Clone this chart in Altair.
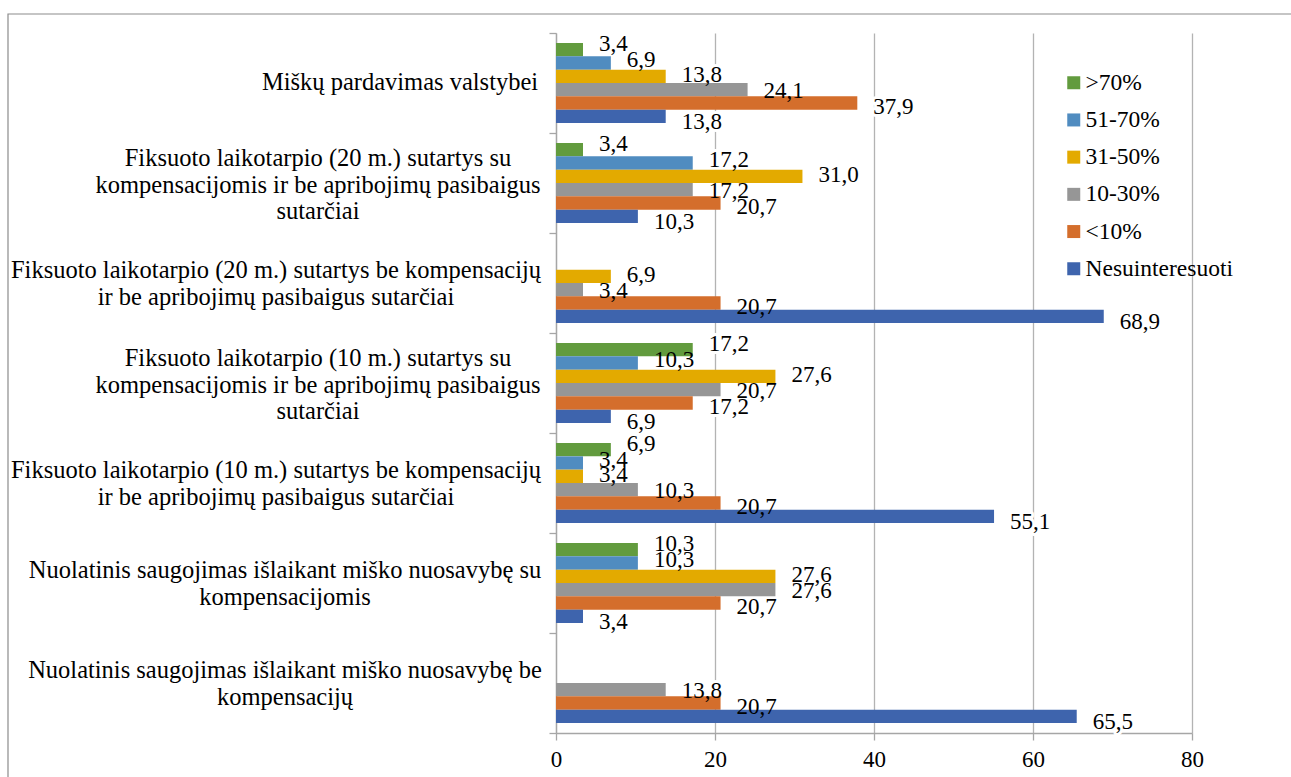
import altair as alt
import pandas as pd

SERIF = "Liberation Serif"

# Category labels; "|" marks a line break
categories = [
    "Miškų pardavimas valstybei",
    "Fiksuoto laikotarpio (20 m.) sutartys su|kompensacijomis ir be apribojimų pasibaigus|sutarčiai",
    "Fiksuoto laikotarpio (20 m.) sutartys be kompensacijų|ir be apribojimų pasibaigus sutarčiai",
    "Fiksuoto laikotarpio (10 m.) sutartys su|kompensacijomis ir be apribojimų pasibaigus|sutarčiai",
    "Fiksuoto laikotarpio (10 m.) sutartys be kompensacijų|ir be apribojimų pasibaigus sutarčiai",
    "Nuolatinis saugojimas išlaikant miško nuosavybę su|kompensacijomis",
    "Nuolatinis saugojimas išlaikant miško nuosavybę be|kompensacijų",
]

series = [">70%", "51-70%", "31-50%", "10-30%", "<10%", "Nesuinteresuoti"]
colors = ["#629b3e", "#508cc0", "#e3aa00", "#969696", "#d46e2c", "#3e64ad"]

# Share of respondents (%) per category, one list per series
share_gt70 = [3.4, 3.4, 0.0, 17.2, 6.9, 10.3, 0.0]
share_51_70 = [6.9, 17.2, 0.0, 10.3, 3.4, 10.3, 0.0]
share_31_50 = [13.8, 31.0, 6.9, 27.6, 3.4, 27.6, 0.0]
share_10_30 = [24.1, 17.2, 3.4, 20.7, 10.3, 27.6, 13.8]
share_lt10 = [37.9, 20.7, 20.7, 17.2, 20.7, 20.7, 20.7]
share_none = [13.8, 10.3, 68.9, 6.9, 55.1, 3.4, 65.5]

series_values = [share_gt70, share_51_70, share_31_50, share_10_30, share_lt10, share_none]

rows = []
for s, vals in zip(series, series_values):
    for c, v in zip(categories, vals):
        rows.append({"category": c, "series": s, "value": v})
df = pd.DataFrame(rows)
cat_df = pd.DataFrame({"category": categories})

x_enc = alt.X(
    "value:Q",
    scale=alt.Scale(domain=[0, 80], nice=False),
    axis=alt.Axis(
        values=[0, 20, 40, 60, 80],
        title=None,
        grid=True,
        gridColor="#b3b3b3",
        gridWidth=1.3,
        domainColor="#a6a6a6",
        domainWidth=1.3,
        tickColor="#a6a6a6",
        tickSize=7,
        tickWidth=1.3,
        labelFont=SERIF,
        labelFontSize=23,
        labelColor="black",
        labelPadding=8,
        labelFlush=False,
    ),
)

y_enc = alt.Y(
    "category:N",
    sort=categories,
    scale=alt.Scale(domain=categories, paddingInner=0, paddingOuter=0),
    axis=alt.Axis(
        title=None,
        labels=False,
        tickBand="extent",
        tickSize=7,
        tickColor="#a6a6a6",
        tickWidth=1.3,
        domainColor="#a6a6a6",
        domainWidth=1.3,
        grid=False,
    ),
)

# Bars: six thin bands in the middle 80% of each category row
bar_offset = alt.YOffset(
    "series:N",
    scale=alt.Scale(domain=series, paddingInner=0, paddingOuter=0.75),
)
# Value labels are spread a little wider than the bars so they do not collide
label_offset = alt.YOffset(
    "series:N",
    scale=alt.Scale(type="point", domain=series, range=[3, 97], padding=0.5),
)

base = alt.Chart(df)

bars = base.mark_bar().encode(
    x=x_enc,
    y=y_enc,
    yOffset=bar_offset,
    color=alt.Color(
        "series:N",
        scale=alt.Scale(domain=series, range=colors),
        legend=alt.Legend(
            title=None,
            orient="none",
            legendX=506,
            legendY=38,
            symbolType="square",
            symbolSize=169,
            symbolStrokeWidth=0,
            labelFont=SERIF,
            labelFontSize=23.5,
            labelColor="black",
            labelOffset=0,
            rowPadding=12.2,
            padding=0,
        ),
    ),
)

label_text = "replace(format(datum.value, '.1f'), '.', ',')"


def value_labels(**style):
    return (
        base.transform_filter("datum.value > 0")
        .transform_calculate(label=label_text)
        .mark_text(align="left", baseline="middle", dx=16, font=SERIF, fontSize=23, **style)
        .encode(x="value:Q", y=alt.Y("category:N", sort=categories), yOffset=label_offset, text="label:N")
    )


# White backing behind each value label (hides gridlines, sits under the bars),
# then the label itself on top
halo = value_labels(fill="white", stroke="white", strokeWidth=6, strokeJoin="round")
labels = value_labels(color="black")


def category_labels(key, shift, lift):
    return (
        alt.Chart(cat_df)
        .transform_filter(f"indexof(datum.category, '{key}') >= 0")
        .mark_text(
            align="center",
            baseline="middle",
            lineBreak="|",
            lineHeight=26.5,
            font=SERIF,
            fontSize=24.5,
            color="black",
            dx=shift,
            dy=lift,
        )
        .encode(x=alt.value(0), y=alt.Y("category:N", sort=categories), text="category:N")
    )


cat_labels = [
    category_labels("pardavimas", -156, 0),
    category_labels("sutartys su", -238, -24),
    category_labels("sutartys be", -280, -12),
    category_labels("Nuolatinis", -271, -12),
]

# Thin frame around the whole chart area
frame = (
    alt.Chart(pd.DataFrame({"f": [0]}))
    .mark_rect(filled=False, stroke="#8c8c8c", strokeWidth=1.2)
    .encode(
        x=alt.value(-548),
        x2=alt.value(760),
        y=alt.value(-19),
        y2=alt.value(780),
    )
)

chart = (
    alt.layer(frame, halo, bars, labels, *cat_labels)
    .resolve_scale(yOffset="independent")
    .properties(
        width=636,
        height=700,
        autosize=alt.AutoSizeParams(type="none"),
        padding={"left": 556, "top": 33, "right": 99, "bottom": 44},
        background="white",
    )
    .configure_view(stroke=None)
)

chart.save("out.html", embed_options={"renderer": "svg", "actions": False})
